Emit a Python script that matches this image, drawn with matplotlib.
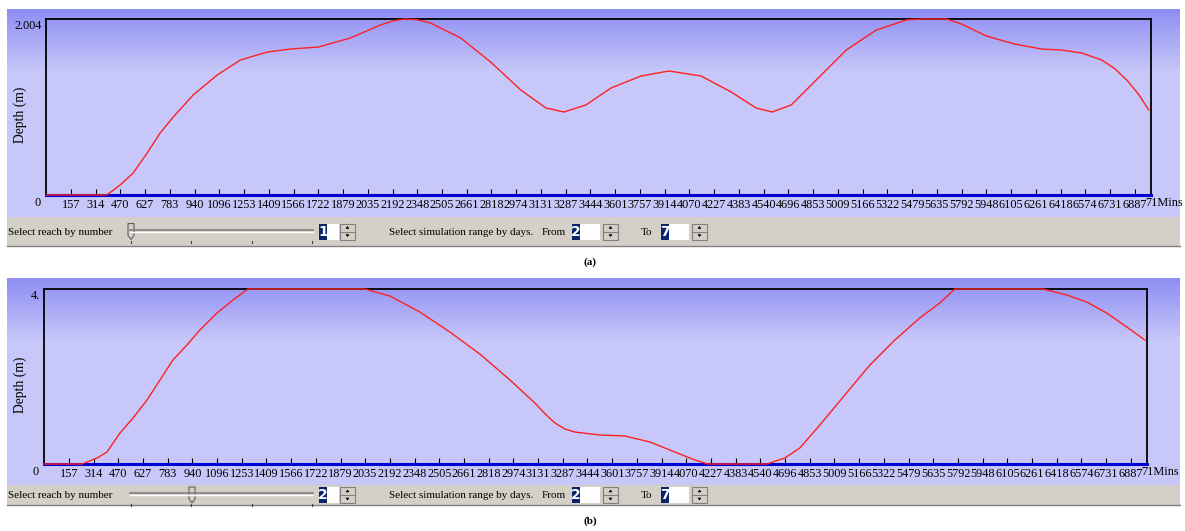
import numpy as np
import matplotlib
matplotlib.use('Agg')
import matplotlib.pyplot as plt
from matplotlib.patches import Rectangle, Polygon

W, H = 1185, 531

# tick labels along the time axis (minutes)
tick_mins = [157, 314, 470, 627, 783, 940, 1096, 1253, 1409, 1566, 1722, 1879,
             2035, 2192, 2348, 2505, 2661, 2818, 2974, 3131, 3287, 3444, 3601,
             3757, 3914, 4070, 4227, 4383, 4540, 4696, 4853, 5009, 5166, 5322,
             5479, 5635, 5792, 5948, 6105, 6261, 6418, 6574, 6731, 6887]

# (a) reach 1 - depth (m) vs time (mins)
mins_a = [0, 374, 393, 469, 551, 640, 722, 805, 931, 1083, 1229, 1400, 1546,
          1723, 1926, 2116, 2200, 2275, 2350, 2433, 2623, 2813, 3003, 3162, 3276, 3415,
          3574, 3764, 3941, 4144, 4334, 4492, 4594, 4714, 4872, 5062, 5253,
          5443, 5538, 5696, 5791, 5949, 6127, 6298, 6425, 6551, 6678, 6760, 6837, 6910, 6976]
depth_a = [0, 0, 0.011, 0.114, 0.25, 0.478, 0.706, 0.888, 1.139, 1.366, 1.537,
           1.628, 1.662, 1.685, 1.788, 1.936, 1.985, 2.004, 1.995, 1.958, 1.788, 1.514, 1.196,
           0.991, 0.945, 1.025, 1.218, 1.355, 1.412, 1.355, 1.173, 0.991, 0.945,
           1.025, 1.309, 1.651, 1.879, 1.993, 2.004, 2.004, 1.947, 1.81, 1.719,
           1.662, 1.651, 1.617, 1.537, 1.44, 1.309, 1.15, 0.968]

# (b) reach 2
mins_b = [0, 241, 336, 399, 482, 564, 653, 735, 817, 906, 988, 1096, 1198, 1293,
          2034, 2192, 2382, 2572, 2762, 2953, 3111, 3174, 3238, 3301, 3364, 3523, 3681, 3840,
          3998, 4125, 4207, 4581, 4695, 4790, 4917, 5075, 5234, 5392, 5550, 5677,
          5772, 6330, 6482, 6608, 6735, 6862, 6976]
depth_b = [0, 0, 0.137, 0.274, 0.709, 1.051, 1.463, 1.92, 2.377, 2.72, 3.063,
           3.451, 3.749, 4.0, 4.0, 3.84, 3.474, 3.017, 2.514, 1.92, 1.394, 1.15, 0.937,
           0.8, 0.731, 0.663, 0.64, 0.503, 0.274, 0.091, 0, 0, 0.137, 0.366, 0.891,
           1.577, 2.263, 2.834, 3.337, 3.68, 4.0, 4.0, 3.863, 3.703, 3.451,
           3.131, 2.834]

serif = 'Liberation Serif'
plt.rcParams['font.family'] = serif

fig = plt.figure(figsize=(W / 100, H / 100), dpi=100)


def frect(x0, y0, x1, y1):
    return [x0 / W, 1 - y1 / H, (x1 - x0) / W, (y1 - y0) / H]


ui = fig.add_axes([0, 0, 1, 1], zorder=10)
ui.set_xlim(0, W)
ui.set_ylim(H, 0)
ui.axis('off')

grey = '#d4d0c8'
navy = '#0a246a'
fs_ui = 8.0


def spinner(x, yc, h=16):
    ui.add_patch(Rectangle((x, yc - h / 2), 15, h, fc=grey, ec='#808080', lw=0.8))
    ui.plot([x, x + 15], [yc, yc], color='#808080', lw=0.8)
    ui.add_patch(Polygon([(x + 6, yc - 3), (x + 9, yc - 3), (x + 7.5, yc - 5)], fc='k', ec='k', lw=0.4))
    ui.add_patch(Polygon([(x + 6, yc + 3), (x + 9, yc + 3), (x + 7.5, yc + 5)], fc='k', ec='k', lw=0.4))


def numbox(x, yc, txt, w=20):
    ui.add_patch(Rectangle((x, yc - 8), w, 16, fc='white', ec='none'))
    ui.add_patch(Rectangle((x, yc - 8), 8, 16, fc=navy, ec='none'))
    ui.text(x + 4, yc, txt, color='white', fontsize=10, fontweight='bold',
            ha='center', va='center', family='DejaVu Sans')


def panel(bg, box, mins, depth, ytop, ytop_txt, reach, thumb_x, bar, lab, tag, ylab_y):
    # gradient background
    bax = fig.add_axes(frect(*bg), zorder=0)
    hgt = bg[3] - bg[1]
    t = np.clip(np.arange(hgt) / 62.0, 0, 1)
    top = np.array([0x8e, 0x8e, 0xf4]) / 255
    bot = np.array([0xc7, 0xc7, 0xf9]) / 255
    img = top[None, :] * (1 - t[:, None]) + bot[None, :] * t[:, None]
    bax.imshow(img[:, None, :], aspect='auto', extent=[0, 1, 1, 0])
    bax.axis('off')

    ax = fig.add_axes(frect(*box), zorder=2)
    ax.set_facecolor('none')
    ax.plot(mins, depth, color='#ff2020', lw=1.0, clip_on=False, zorder=5)
    ax.set_xlim(0, 6990)
    ax.set_ylim(0, ytop)
    ax.set_xticks(tick_mins)
    ax.set_xticklabels([str(v) for v in tick_mins])
    ax.set_yticks([])
    ax.tick_params(axis='x', direction='in', length=4, width=0.8, pad=3,
                   labelsize=8.8, colors='black')
    for s in ['top', 'left', 'right']:
        ax.spines[s].set_color('black')
        ax.spines[s].set_linewidth(1.3)
    ax.spines['bottom'].set_color('#0000d0')
    ax.spines['bottom'].set_linewidth(2.2)

    x0, y0, x1, y1 = box
    ui.text(x0 - 8, y1 + 8, '0', fontsize=8.8, ha='center', va='center')
    ui.text(x0 - 4, y0 + 7, ytop_txt, fontsize=8.8, ha='right', va='center')
    ui.text(x1 - 6, y1 + 8, '71Mins', fontsize=8.8, ha='left', va='center')
    ui.text(20, ylab_y, 'Depth (m)', fontsize=9.8, rotation=90, ha='center', va='center')

    # control bar
    bx0, by0, bx1, by1 = bar
    yc = (by0 + by1) / 2
    ui.add_patch(Rectangle((bx0, by0), bx1 - bx0, by1 - by0, fc=grey, ec='none'))
    ui.plot([bx0, bx1], [by1, by1], color='#808080', lw=1)
    ui.text(8, yc + 1, 'Select reach by number', fontsize=fs_ui, va='center')
    ui.plot([130, 313], [yc - 2, yc - 2], color='#808080', lw=1.2)
    ui.plot([130, 313], [yc, yc], color='white', lw=1)
    for tx in [131, 191, 252, 312]:
        ui.plot([tx, tx], [yc + 9, yc + 11], color='#404040', lw=0.8)
    ui.add_patch(Polygon([(thumb_x - 3, yc - 8), (thumb_x + 3, yc - 8), (thumb_x + 3, yc + 4),
                          (thumb_x, yc + 8), (thumb_x - 3, yc + 4)], fc=grey, ec='#606060', lw=0.8))
    numbox(319, yc, reach)
    spinner(340, yc)
    ui.text(389, yc + 1, 'Select simulation range by days.', fontsize=fs_ui, va='center')
    ui.text(542, yc + 1, 'From', fontsize=fs_ui, va='center')
    numbox(572, yc, '2', w=28)
    spinner(603, yc)
    ui.text(641, yc + 1, 'To', fontsize=fs_ui, va='center')
    numbox(661, yc, '7', w=28)
    spinner(692, yc)
    ui.text(590, lab, tag, fontsize=8, fontweight='bold', ha='center', va='center')


panel((7, 9, 1180, 217), (46, 19, 1151, 195), mins_a, depth_a, 2.004, '2.004',
      '1', 131, (7, 217, 1180, 246), 262, '(a)', 115)
panel((7, 278, 1180, 486), (44, 289, 1147, 464), mins_b, depth_b, 4.0, '4.',
      '2', 192, (7, 485, 1180, 505), 521, '(b)', 385)

fig.savefig('out.png', dpi=100)
